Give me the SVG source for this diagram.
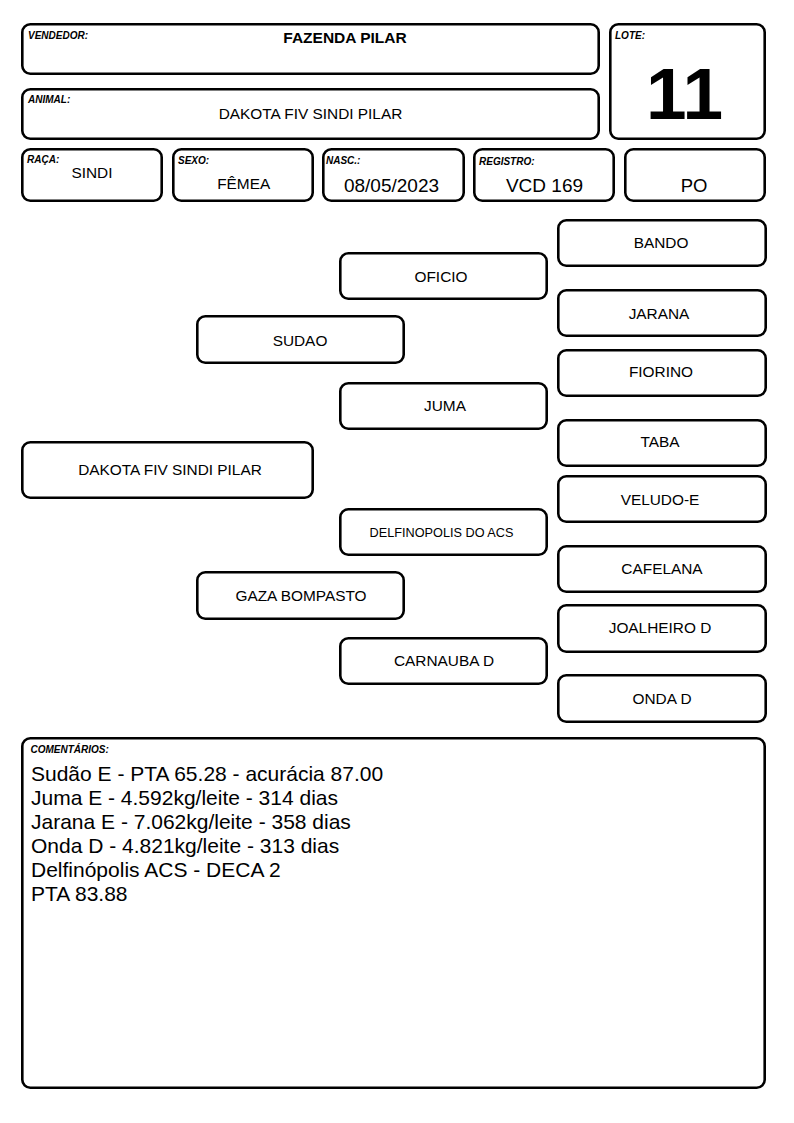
<svg xmlns="http://www.w3.org/2000/svg" width="794" height="1123" viewBox="0 0 794 1123">
<style>
.b{fill:#fff;stroke:#000;stroke-width:2.6}
.lb{font-family:"Liberation Sans",Arial,sans-serif;font-size:10px;font-weight:bold;font-style:italic;fill:#000}
.v{font-family:"Liberation Sans",Arial,sans-serif;fill:#000;text-anchor:middle}
.n{font-family:"Liberation Sans",Arial,sans-serif;font-size:15.4px;fill:#000;text-anchor:middle}
.n.s{font-size:12.7px}
.c{font-family:"Liberation Sans",Arial,sans-serif;font-size:21px;fill:#000}
</style>
<rect width="794" height="1123" fill="#fff"/>
<g id="vendedor">
<rect class="b" x="22.3" y="24.3" width="576.4" height="49.4" rx="8"/>
<text class="lb" x="28" y="39">VENDEDOR:</text>
<text class="v" x="345" y="43" font-size="15.5" font-weight="bold">FAZENDA PILAR</text>
</g>
<g id="lote">
<rect class="b" x="610.3" y="24.3" width="154.4" height="114.4" rx="8"/>
<text class="lb" x="615" y="38.5">LOTE:</text>
<text class="v" x="684.5" y="119" font-size="73" font-weight="bold">11</text>
</g>
<g id="animal">
<rect class="b" x="22.3" y="89.3" width="576.4" height="49.4" rx="8"/>
<text class="lb" x="28" y="102.5">ANIMAL:</text>
<text class="v" x="310.5" y="119" font-size="15.4">DAKOTA FIV SINDI PILAR</text>
</g>
<g id="raca">
<rect class="b" x="22.3" y="149.3" width="139.4" height="51.4" rx="8"/>
<text class="lb" x="27" y="163">RAÇA:</text>
<text class="v" x="92" y="178.3" font-size="15.4">SINDI</text>
</g>
<g id="sexo">
<rect class="b" x="173.3" y="149.3" width="139.4" height="51.4" rx="8"/>
<text class="lb" x="178" y="164">SEXO:</text>
<text class="v" x="243.7" y="189" font-size="15.4">FÊMEA</text>
</g>
<g id="nasc">
<rect class="b" x="323.3" y="149.3" width="140.4" height="51.4" rx="8"/>
<text class="lb" x="326" y="164">NASC.:</text>
<text class="v" x="391.5" y="191.7" font-size="19">08/05/2023</text>
</g>
<g id="registro">
<rect class="b" x="474.3" y="149.3" width="139.4" height="51.4" rx="8"/>
<text class="lb" x="479" y="165">REGISTRO:</text>
<text class="v" x="544.5" y="191.7" font-size="19">VCD 169</text>
</g>
<g id="po">
<rect class="b" x="625.3" y="149.3" width="139.4" height="51.4" rx="8"/>
<text class="v" x="694" y="192" font-size="18.5">PO</text>
</g>
<g id="connectors"></g>
<g id="bando"><rect class="b" x="558.3" y="220.3" width="207.4" height="45.4" rx="8"/><text class="n" x="661" y="247.5">BANDO</text></g>
<g id="oficio"><rect class="b" x="340.3" y="253.3" width="206.4" height="45.4" rx="8"/><text class="n" x="441" y="281.5">OFICIO</text></g>
<g id="jarana"><rect class="b" x="558.3" y="290.3" width="207.4" height="45.4" rx="8"/><text class="n" x="659" y="318.5">JARANA</text></g>
<g id="sudao"><rect class="b" x="197.3" y="316.3" width="206.4" height="46.4" rx="8"/><text class="n" x="300" y="345.5">SUDAO</text></g>
<g id="fiorino"><rect class="b" x="558.3" y="350.3" width="207.4" height="45.4" rx="8"/><text class="n" x="661" y="376.5">FIORINO</text></g>
<g id="juma"><rect class="b" x="340.3" y="383.3" width="206.4" height="45.4" rx="8"/><text class="n" x="445" y="410.5">JUMA</text></g>
<g id="taba"><rect class="b" x="558.3" y="420.3" width="207.4" height="45.4" rx="8"/><text class="n" x="660" y="446.5">TABA</text></g>
<g id="dakota"><rect class="b" x="22.3" y="442.3" width="290.4" height="55.4" rx="8"/><text class="n" x="170" y="475">DAKOTA FIV SINDI PILAR</text></g>
<g id="veludo"><rect class="b" x="558.3" y="476.3" width="207.4" height="45.4" rx="8"/><text class="n" x="660" y="504.5">VELUDO-E</text></g>
<g id="delfinopolis"><rect class="b" x="340.3" y="509.3" width="206.4" height="45.4" rx="8"/><text class="n s" x="441.5" y="536.5">DELFINOPOLIS DO ACS</text></g>
<g id="gaza"><rect class="b" x="197.3" y="572.3" width="206.4" height="46.4" rx="8"/><text class="n" x="301" y="600.5">GAZA BOMPASTO</text></g>
<g id="cafelana"><rect class="b" x="558.3" y="546.3" width="207.4" height="45.4" rx="8"/><text class="n" x="662" y="573.5">CAFELANA</text></g>
<g id="joalheiro"><rect class="b" x="558.3" y="605.3" width="207.4" height="46.4" rx="8"/><text class="n" x="660" y="632.5">JOALHEIRO D</text></g>
<g id="carnauba"><rect class="b" x="340.3" y="638.3" width="206.4" height="45.4" rx="8"/><text class="n" x="444" y="665.5">CARNAUBA D</text></g>
<g id="onda"><rect class="b" x="558.3" y="675.3" width="207.4" height="46.4" rx="8"/><text class="n" x="662" y="703.5">ONDA D</text></g>
<g id="comentarios">
<rect class="b" x="22.3" y="738.3" width="742.4" height="349.4" rx="8"/>
<text class="lb" x="30.5" y="752.5">COMENTÁRIOS:</text>
<text class="c" x="31" y="780.5">Sudão E - PTA 65.28 - acurácia 87.00</text>
<text class="c" x="31" y="804.5">Juma E - 4.592kg/leite - 314 dias</text>
<text class="c" x="31" y="828.5">Jarana E - 7.062kg/leite - 358 dias</text>
<text class="c" x="31" y="852.5">Onda D - 4.821kg/leite - 313 dias</text>
<text class="c" x="31" y="876.5">Delfinópolis ACS - DECA 2</text>
<text class="c" x="31" y="900.5">PTA 83.88</text>
</g>
</svg>
